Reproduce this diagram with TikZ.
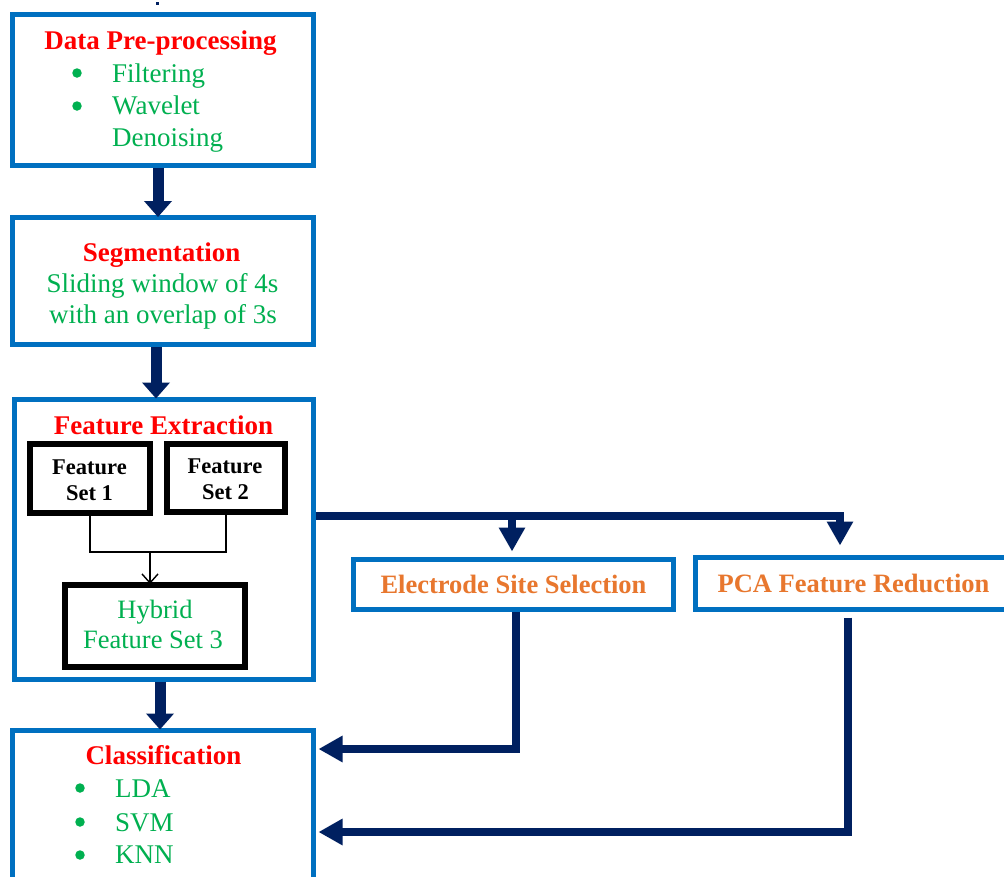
\documentclass[tikz,border=0pt]{standalone}
\usepackage{fontspec}
\setmainfont{Liberation Serif}
\usetikzlibrary{arrows.meta,calc}
\definecolor{boxblue}{HTML}{0070C0}
\definecolor{navy}{HTML}{002060}
\definecolor{tred}{HTML}{FF0000}
\definecolor{tgreen}{HTML}{00B050}
\definecolor{torange}{HTML}{E8772E}
\begin{document}
\begin{tikzpicture}[x=1pt,y=-1pt,
  bluebox/.style={draw=boxblue,line width=5pt,inner sep=0pt},
  blackbox/.style={draw=black,line width=6pt,inner sep=0pt},
  ttl/.style={anchor=base,inner sep=0pt,text=tred,font=\fontsize{27pt}{31pt}\selectfont\bfseries},
  gtxt/.style={anchor=base,inner sep=0pt,text=tgreen,font=\fontsize{27pt}{31pt}\selectfont},
  item/.style={anchor=base west,inner sep=0pt,text=tgreen,font=\fontsize{27pt}{31pt}\selectfont},
  otxt/.style={anchor=base,inner sep=0pt,text=torange,font=\fontsize{26.5pt}{31pt}\selectfont\bfseries},
  ftxt/.style={anchor=base,inner sep=0pt,text=black,font=\fontsize{22.5pt}{26pt}\selectfont\bfseries},
  htxt/.style={anchor=base,inner sep=0pt,text=tgreen,font=\fontsize{26.5pt}{30pt}\selectfont},
  dot/.style={circle,fill=tgreen,minimum size=9.5pt,inner sep=0pt},
  bigarr/.style={draw=navy,line width=11pt,-{Triangle[width=27pt,length=16pt]}},
  navyarr/.style={draw=navy,line width=8pt,-{Triangle[width=25pt,length=24pt]}},
  navyline/.style={draw=navy,line width=8pt},
  thinline/.style={draw=black,line width=1.4pt},
  thinarr/.style={draw=black,line width=1.4pt,-{Straight Barb[length=9pt,width=16pt]}}
]
\useasboundingbox (0,0) rectangle (1004,876);
\clip (0,0) rectangle (1004,876);
\fill[white] (0,0) rectangle (1004,876);

% boxes
\node[bluebox,minimum width=301pt,minimum height=151pt] (pre) at (162.5,89.5) {};
\node[bluebox,minimum width=301pt,minimum height=127pt] (seg) at (162.5,281) {};
\node[bluebox,minimum width=299pt,minimum height=280pt] (fe) at (163.5,539) {};
\node[bluebox,minimum width=301pt,minimum height=160pt] (cls) at (162.5,810) {};
\node[blackbox,minimum width=120pt,minimum height=69pt] (fs1) at (90,478.5) {};
\node[blackbox,minimum width=118pt,minimum height=68pt] (fs2) at (226,478) {};
\node[blackbox,minimum width=180pt,minimum height=82pt] (hyb) at (155,626) {};
\node[bluebox,minimum width=320pt,minimum height=50pt] (ess) at (513,584) {};
\node[bluebox,minimum width=317pt,minimum height=52pt] (pca) at (853.5,583) {};

% texts
\node[ttl] (preT) at (160.5,49) {Data Pre-processing};
\node[dot] (d1) at (77,73) {};
\node[item] (i1) at (112,82) {Filtering};
\node[dot] (d2) at (77,106) {};
\node[item] (i2) at (112,114.5) {Wavelet};
\node[item] (i3) at (112,146.5) {Denoising};

\node[ttl] (segT) at (161.7,261) {Segmentation};
\node[gtxt] (s1) at (162.5,292) {Sliding window of 4s};
\node[gtxt] (s2) at (163,323) {with an overlap of 3s};

\node[ttl] (feT) at (163.5,434) {Feature Extraction};
\node[ftxt] (f1a) at (89.5,474) {Feature};
\node[ftxt] (f1b) at (89.5,500) {Set 1};
\node[ftxt] (f2a) at (225,473) {Feature};
\node[ftxt] (f2b) at (225.5,499) {Set 2};
\node[htxt] (h1) at (155,618) {Hybrid};
\node[htxt] (h2) at (153,648) {Feature Set 3};

\node[otxt] (essT) at (513.5,593) {Electrode Site Selection};
\node[otxt] (pcaT) at (853.5,592) {PCA Feature Reduction};

\node[ttl] (clsT) at (163.5,764) {Classification};
\node[dot] (d3) at (80,788) {};
\node[item] (c1) at (115,797) {LDA};
\node[dot] (d4) at (80,822) {};
\node[item] (c2) at (115,831) {SVM};
\node[dot] (d5) at (80,855) {};
\node[item] (c3) at (115,863) {KNN};

% tiny mark at top
\fill[navy] (156,2) rectangle (159,5);

% main flow arrows
\coordinate (ax1) at (158,0);
\coordinate (ax2) at (156,0);
\coordinate (ax3) at (160,0);
\draw[bigarr] (pre.south -| ax1) -- ([yshift=-2pt]seg.north -| ax1);
\draw[bigarr] (seg.south -| ax2) -- ([yshift=-2pt]fe.north -| ax2);
\draw[bigarr] (fe.south -| ax3) -- ([yshift=-2pt]cls.north -| ax3);

% feature set merge
\coordinate (m) at (150,552);
\draw[thinline] (fs1.south) |- (m) -| (fs2.south);
\draw[thinarr] (m) -- ([yshift=-2pt]hyb.north -| m);

% branch to electrode / PCA
\coordinate (j1) at (512,516);
\coordinate (j2) at (840,516);
\draw[navyline] (fe.east |- j1) -- (j2);
\draw[navyarr] (j1) -- ([yshift=5pt]ess.north -| j1);
\draw[navyarr] ([yshift=4pt]j2) -- ([yshift=9pt]pca.north -| j2);

% returns to classification
\coordinate (k1) at (516,749);
\coordinate (k2) at (848,832);
\draw[navyarr] (ess.south -| k1) -- (k1) -- ([xshift=3pt]k1 -| cls.east);
\draw[navyarr] ([yshift=-6pt]pca.south -| k2) -- (k2) -- ([xshift=3pt]k2 -| cls.east);
\end{tikzpicture}
\end{document}
